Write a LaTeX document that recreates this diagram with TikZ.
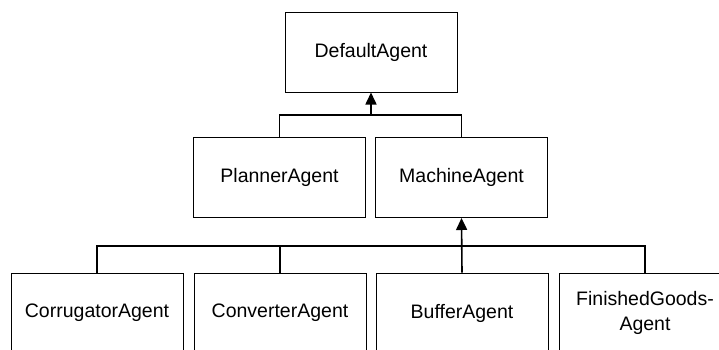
\documentclass[tikz,border=0pt]{standalone}
\usepackage{fontspec}
\setmainfont{Liberation Sans}
\usetikzlibrary{arrows.meta}
\begin{document}
\begin{tikzpicture}[x=1pt,y=-1pt,
  classbox/.style={draw=black, line width=1pt, rectangle, minimum width=172pt,
    minimum height=80pt, inner sep=0pt, align=center,
    font=\fontsize{19.5}{25}\selectfont},
  link/.style={draw=black, line width=1.6pt},
  inherit/.style={link, -{Triangle[length=12pt,width=11pt]}}]
  \useasboundingbox (0,0) rectangle (719,349);

  % class hierarchy
  \node[classbox] (default) at (371,52) {DefaultAgent};
  \node[classbox] (planner) at (279.5,177.5) {PlannerAgent};
  \node[classbox] (machine) at (461.5,177.5) {MachineAgent};
  \node[classbox] (corr) at (97,313) {CorrugatorAgent};
  \node[classbox] (conv) at (280,313) {ConverterAgent};
  \node[classbox] (buf) at (462,313) {BufferAgent};
  \node[classbox] (fg) at (645,313) {FinishedGoods-\\Agent};

  % junction points on the connector buses
  \coordinate (j1) at (default.south |- 0,115);
  \coordinate (j2) at (machine.south |- 0,246);

  % PlannerAgent and MachineAgent inherit from DefaultAgent
  \draw[link] (planner.north) |- (j1);
  \draw[link] (machine.north) |- (j1);
  \draw[inherit] (j1) -- (default.south);

  % machine subclasses inherit from MachineAgent
  \draw[link] (corr.north) |- (j2);
  \draw[link] (conv.north) |- (j2);
  \draw[link] (fg.north) |- (j2);
  \draw[inherit] (buf.north) -- (machine.south);
\end{tikzpicture}
\end{document}
